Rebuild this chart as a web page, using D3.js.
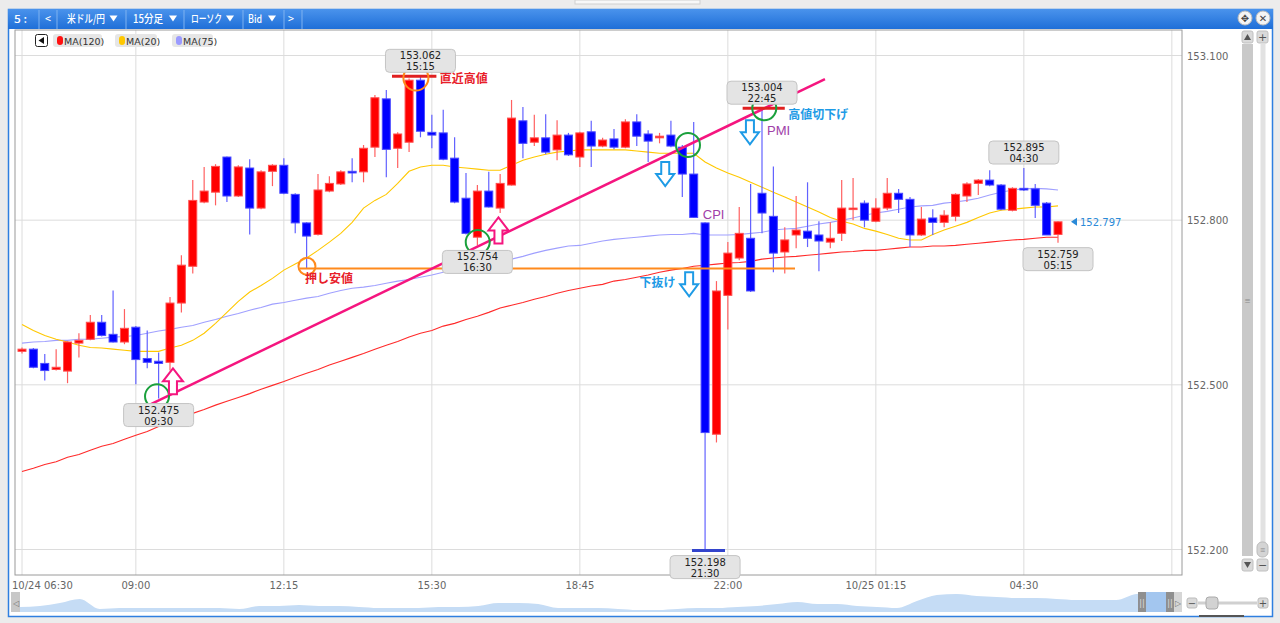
<!DOCTYPE html>
<html><head><meta charset="utf-8">
<script src="https://cdn.jsdelivr.net/npm/d3@7"></script>
<style>
html,body{margin:0;padding:0;background:#ececec;overflow:hidden}
svg{display:block}
</style></head><body>
<svg id="c" width="1280" height="623"></svg>
<script>
// ---------------- DATA ----------------
const timeTickLabels = ["10/24 06:30","09:00","12:15","15:30","18:45","22:00","10/25 01:15","04:30",""];
const timeTickBars = [0,10,23,36,49,62,75,88,101];
const priceTicks = [152.2,152.5,152.8,153.1];
const startMinutes = 390; // 06:30, 15-minute bars

const open = [152.561,152.565,152.539,152.528,152.525,152.576,152.583,152.614,152.592,152.578,
 152.605,152.548,152.543,152.541,152.649,152.716,152.833,152.851,152.915,152.844,
 152.895,152.822,152.889,152.900,152.847,152.795,152.774,152.853,152.866,152.889,
 152.888,152.933,153.021,152.931,152.942,153.055,152.960,152.959,152.913,152.840,
 152.769,152.853,152.822,152.864,152.981,152.942,152.950,152.928,152.955,152.915,
 152.961,152.935,152.948,152.933,152.979,152.957,152.950,152.955,152.933,152.884,
 152.795,152.410,152.663,152.731,152.767,152.849,152.807,152.742,152.773,152.780,
 152.773,152.760,152.776,152.820,152.831,152.798,152.822,152.849,152.838,152.773,
 152.804,152.796,152.807,152.844,152.867,152.873,152.864,152.818,152.858,152.857,
 152.831,152.774];
const close = [152.565,152.532,152.526,152.532,152.578,152.581,152.614,152.590,152.578,152.603,
 152.546,152.541,152.539,152.649,152.718,152.836,152.853,152.898,152.844,152.897,
 152.822,152.888,152.900,152.849,152.795,152.771,152.855,152.867,152.888,152.886,
 152.931,153.023,152.929,152.957,153.055,152.962,152.955,152.911,152.833,152.776,
 152.853,152.824,152.867,152.986,152.940,152.950,152.924,152.955,152.919,152.959,
 152.935,152.946,152.933,152.979,152.953,152.944,152.953,152.935,152.884,152.805,
 152.413,152.671,152.740,152.776,152.671,152.813,152.740,152.764,152.782,152.767,
 152.762,152.767,152.822,152.822,152.800,152.822,152.849,152.838,152.773,152.802,
 152.796,152.809,152.847,152.866,152.873,152.864,152.820,152.858,152.855,152.827,
 152.773,152.797];
const high = [152.568,152.567,152.556,152.565,152.579,152.594,152.627,152.627,152.672,152.638,
 152.607,152.599,152.559,152.660,152.736,152.873,152.897,152.902,152.916,152.900,
 152.911,152.891,152.902,152.913,152.849,152.796,152.884,152.880,152.891,152.913,
 152.937,153.028,153.037,152.960,153.058,153.062,152.992,153.001,152.951,152.886,
 152.864,152.888,152.884,153.019,153.006,152.992,152.993,152.982,152.959,152.961,
 152.981,152.950,152.966,152.984,152.993,152.964,152.959,152.981,152.937,152.979,
 152.796,152.689,152.760,152.824,152.866,153.004,152.898,152.787,152.844,152.869,
 152.798,152.796,152.873,152.877,152.836,152.840,152.877,152.857,152.842,152.824,
 152.820,152.818,152.849,152.869,152.875,152.891,152.866,152.860,152.895,152.866,
 152.833,152.798];
const low = [152.557,152.530,152.508,152.526,152.503,152.550,152.581,152.588,152.577,152.574,
 152.501,152.530,152.475,152.526,152.632,152.703,152.831,152.827,152.833,152.842,
 152.774,152.820,152.862,152.847,152.776,152.712,152.772,152.851,152.864,152.869,
 152.869,152.915,152.878,152.895,152.924,152.951,152.931,152.909,152.831,152.774,
 152.754,152.823,152.813,152.863,152.913,152.935,152.920,152.909,152.917,152.897,
 152.897,152.933,152.929,152.931,152.935,152.906,152.940,152.933,152.842,152.804,
 152.198,152.395,152.601,152.727,152.669,152.776,152.705,152.703,152.749,152.751,
 152.707,152.749,152.762,152.800,152.787,152.796,152.818,152.813,152.751,152.771,
 152.773,152.787,152.798,152.833,152.846,152.862,152.818,152.816,152.853,152.804,
 152.773,152.759];

const ma20 = [152.610,152.599,152.590,152.583,152.578,152.572,152.568,152.567,152.565,152.563,
 152.561,152.561,152.561,152.567,152.572,152.581,152.594,152.612,152.632,152.652,
 152.669,152.681,152.694,152.709,152.720,152.731,152.745,152.760,152.776,152.796,
 152.822,152.836,152.847,152.867,152.889,152.897,152.900,152.900,152.897,152.895,
 152.893,152.891,152.891,152.900,152.909,152.915,152.920,152.924,152.926,152.928,
 152.928,152.928,152.928,152.928,152.926,152.924,152.922,152.922,152.922,152.922,
 152.906,152.895,152.886,152.878,152.869,152.860,152.851,152.842,152.833,152.824,
 152.815,152.805,152.798,152.793,152.785,152.780,152.774,152.767,152.764,152.764,
 152.774,152.782,152.789,152.796,152.805,152.813,152.818,152.820,152.822,152.824,
 152.824,152.826];
const ma75 = [152.576,152.578,152.579,152.581,152.581,152.583,152.583,152.585,152.587,152.588,
 152.590,152.594,152.598,152.601,152.605,152.608,152.614,152.619,152.625,152.630,
 152.636,152.641,152.647,152.650,152.654,152.658,152.661,152.667,152.672,152.676,
 152.678,152.681,152.685,152.689,152.692,152.696,152.700,152.705,152.709,152.714,
 152.718,152.722,152.725,152.729,152.734,152.740,152.745,152.749,152.753,152.754,
 152.758,152.762,152.765,152.767,152.769,152.771,152.773,152.774,152.774,152.776,
 152.773,152.773,152.773,152.774,152.776,152.778,152.782,152.784,152.785,152.789,
 152.793,152.796,152.800,152.804,152.809,152.813,152.816,152.820,152.824,152.826,
 152.827,152.831,152.833,152.836,152.840,152.846,152.851,152.855,152.857,152.858,
 152.857,152.855];
const ma120 = [152.342,152.348,152.355,152.360,152.368,152.373,152.381,152.388,152.393,152.401,
 152.408,152.415,152.424,152.432,152.439,152.448,152.455,152.463,152.470,152.477,
 152.484,152.492,152.499,152.506,152.514,152.521,152.528,152.536,152.543,152.550,
 152.557,152.565,152.572,152.579,152.587,152.594,152.599,152.607,152.612,152.619,
 152.625,152.632,152.640,152.645,152.650,152.656,152.661,152.667,152.672,152.676,
 152.680,152.683,152.689,152.692,152.696,152.700,152.705,152.709,152.712,152.716,
 152.718,152.720,152.722,152.723,152.725,152.729,152.731,152.733,152.734,152.736,
 152.738,152.740,152.742,152.743,152.745,152.745,152.747,152.749,152.751,152.751,
 152.753,152.753,152.754,152.756,152.758,152.760,152.762,152.764,152.765,152.767,
 152.769,152.769];

// overview navigator profile (relative level, sampled every 20px of overview)
const navLevels = [5,6,9,13,3,4,4,4,4,4,4,3,6,6,7,6,6,5,4,4,4,5,5,6,9,9,8,4,4,4,3,2,2,3,4,4,5,6,8,10,8,8,6,5,4,11,17,18,16,15,14,14,13,12,12,12,18,19,19];

const legendItems = [{name:"MA(120)", color:"#ff1010"},{name:"MA(20)", color:"#ffc800"},{name:"MA(75)", color:"#9a9aff"}];
const headerItems = ["5 :","<","米ドル/円","15分足","ローソク","Bid",">"];
const highMarks = [35,65,88];
const lowMarks = [12,40,60,91];
const greenCircles = [{bar:11.86,price:152.479},{bar:40.03,price:152.760},{bar:58.5,price:152.937},{bar:65.2,price:153.004}];
const orangeCircles = [{bar:34.6,price:153.059,r:12.5},{bar:25.03,price:152.716,r:8.5}];
const upArrows = [{bar:13.26,price:152.530},{bar:41.85,price:152.805}];
const downArrows = [{bar:56.5,price:152.906},{bar:58.6,price:152.705},{bar:63.94,price:152.982}];
const notes = [
 {text:"直近高値",bar:36.7,price:153.050,color:"#e8202a",bold:true},
 {text:"押し安値",bar:24.86,price:152.685,color:"#e8202a",bold:true},
 {text:"下抜け",bar:54.25,price:152.678,color:"#1e9be6",bold:true},
 {text:"高値切下げ",bar:67.3,price:152.984,color:"#1e9be6",bold:true},
 {text:"CPI",bar:59.8,price:152.802,color:"#a040a8",bold:false},
 {text:"PMI",bar:65.45,price:152.955,color:"#a040a8",bold:false}
];
const trendLine = [{bar:11.24,price:152.464},{bar:70.53,price:153.057}];
const supportLine = {from:24.4,to:67.9,price:152.712};
const lastPrice = 152.797;

// ---------------- LAYOUT ----------------
const svg = d3.select("#c");
const P = {l:15, t:30, r:1182, b:575};
const x = d3.scaleLinear().domain([0,91]).range([22,1058]);
const y = d3.scaleLinear().domain([152.2,153.1]).range([549.5,55.5]);
const FONT = "'DejaVu Sans', Verdana, sans-serif";
const JFONT = "'Noto Sans CJK JP', 'Noto Sans', sans-serif";

svg.append("rect").attr("x",0).attr("y",0).attr("width",1280).attr("height",623).attr("fill","#ececec");
svg.append("rect").attr("x",575).attr("y",0).attr("width",125).attr("height",4).attr("fill","#f8f8f8").attr("stroke","#d0d0d0");
svg.append("rect").attr("x",8.5).attr("y",9.5).attr("width",1264).attr("height",607).attr("fill","#fff").attr("stroke","#2f7fe0").attr("stroke-width",1.5);

// header
const hg = svg.append("defs").append("linearGradient").attr("id","hdr").attr("x1",0).attr("y1",0).attr("x2",0).attr("y2",1);
hg.append("stop").attr("offset","0%").attr("stop-color","#4a93ec");
hg.append("stop").attr("offset","100%").attr("stop-color","#1f6fd8");
svg.append("rect").attr("x",8).attr("y",9).attr("width",1265).attr("height",20).attr("fill","url(#hdr)");
const hdrX = [14,45,67,133,191,248,288];
const hdrW = [13,6,38,30,31,14,6];
const hdrArrowX = [113.5,173,230,272];
svg.append("g").selectAll("text").data(headerItems).join("text")
  .attr("x",(d,i)=>hdrX[i]).attr("y",23).text(d=>d).attr("fill","#fff")
  .attr("textLength",(d,i)=>hdrW[i]).attr("lengthAdjust","spacingAndGlyphs")
  .attr("font-family",JFONT).attr("font-size",11).attr("font-weight","500");
svg.append("g").selectAll("path").data(hdrArrowX).join("path")
  .attr("d",d=>`M${d-4},15.5 L${d+4},15.5 L${d},21.5 Z`).attr("fill","#fff");
svg.append("g").selectAll("line").data([39,57,126,184,243,284,302]).join("line")
  .attr("x1",d=>d).attr("x2",d=>d).attr("y1",10).attr("y2",29).attr("stroke","#7fb2f0").attr("stroke-width",1);
[1245,1263].forEach((cx,k)=>{
  svg.append("circle").attr("cx",cx).attr("cy",18).attr("r",7).attr("fill","#f4f4f4").attr("stroke","#bbb");
  svg.append("text").attr("x",cx).attr("y",22).attr("text-anchor","middle").attr("font-size",10)
    .attr("font-family",FONT).attr("fill","#444").text(k===0?"✥":"✕");
});

// plot frame + grid
const grid = svg.append("g");
grid.selectAll("line.v").data(timeTickBars).join("line").attr("class","v")
  .attr("x1",d=>x(d)).attr("x2",d=>x(d)).attr("y1",P.t).attr("y2",P.b).attr("stroke","#dcdcdc");
grid.selectAll("line.h").data(priceTicks).join("line").attr("class","h")
  .attr("x1",P.l).attr("x2",P.r).attr("y1",d=>y(d)).attr("y2",d=>y(d)).attr("stroke","#dcdcdc");
svg.append("rect").attr("x",P.l).attr("y",P.t).attr("width",P.r-P.l).attr("height",P.b-P.t)
  .attr("fill","none").attr("stroke","#9a9a9a");

svg.append("g").selectAll("text").data(priceTicks).join("text")
  .attr("x",1187).attr("y",d=>y(d)+4).text(d=>d.toFixed(3))
  .attr("font-family",FONT).attr("font-size",10).attr("fill","#666");
svg.append("g").selectAll("text").data(timeTickBars.map((b,i)=>({b,t:timeTickLabels[i]}))).join("text")
  .attr("x",d=>d.b===0?12:x(d.b)).attr("y",589).attr("text-anchor",d=>d.b===0?"start":"middle")
  .text(d=>d.t).attr("font-family",FONT).attr("font-size",10).attr("fill","#666");

svg.append("clipPath").attr("id","plotclip").append("rect")
  .attr("x",P.l).attr("y",P.t).attr("width",P.r-P.l).attr("height",P.b-P.t);
const plot = svg.append("g").attr("clip-path","url(#plotclip)");

const lineGen = d3.line().x((d,i)=>x(i)).y(d=>y(d));
[[ma120,"#ff2a2a"],[ma75,"#a0a0ff"],[ma20,"#ffc800"]].forEach(([arr,c])=>{
  plot.append("path").datum(arr).attr("d",lineGen).attr("fill","none").attr("stroke",c).attr("stroke-width",1.1);
});

const bars = d3.range(open.length);
const cg = plot.append("g");
cg.selectAll("line.w").data(bars).join("line").attr("class","w")
  .attr("x1",i=>x(i)).attr("x2",i=>x(i)).attr("y1",i=>y(high[i])).attr("y2",i=>y(low[i]))
  .attr("stroke",i=>close[i]>=open[i]?"#ff6060":"#6262ff").attr("stroke-width",1.2);
cg.selectAll("rect.b").data(bars).join("rect").attr("class","b")
  .attr("x",i=>x(i)-4).attr("width",8)
  .attr("y",i=>y(Math.max(open[i],close[i])))
  .attr("height",i=>Math.max(1.5,Math.abs(y(open[i])-y(close[i]))))
  .attr("fill",i=>close[i]>=open[i]?"#ff0000":"#0000ff")
  .attr("stroke",i=>close[i]>=open[i]?"#ff5050":"#4a4aff").attr("stroke-width",1);

// legend
const lg = svg.append("g");
lg.append("rect").attr("x",35.5).attr("y",34.5).attr("width",12).attr("height",12).attr("rx",2)
  .attr("fill","#fff").attr("stroke","#222");
lg.append("path").attr("d","M38.5,40.5 L44,37 L44,44 Z").attr("fill","#111");
const legendX = [53,115,172];
const legendW = [49,42,41];
legendItems.forEach((d,i)=>{
  lg.append("rect").attr("x",legendX[i]).attr("y",34).attr("width",legendW[i]).attr("height",13).attr("rx",3).attr("fill","#e6e6e6");
  lg.append("rect").attr("x",legendX[i]+4).attr("y",36).attr("width",6).attr("height",9).attr("rx",3).attr("fill",d.color);
  lg.append("text").attr("x",legendX[i]+11).attr("y",44.5).text(d.name).attr("font-family",FONT).attr("font-size",9.5).attr("fill","#333");
});

// annotations
const ann = svg.append("g");
ann.append("line").attr("x1",x(supportLine.from)).attr("x2",x(supportLine.to))
  .attr("y1",y(supportLine.price)).attr("y2",y(supportLine.price)).attr("stroke","#ff8a1c").attr("stroke-width",2);
ann.append("line").attr("x1",x(trendLine[0].bar)).attr("y1",y(trendLine[0].price))
  .attr("x2",x(trendLine[1].bar)).attr("y2",y(trendLine[1].price)).attr("stroke","#f5157f").attr("stroke-width",2.5);
ann.append("line").attr("x1",x(32.5)).attr("x2",x(36.4)).attr("y1",y(high[35])).attr("y2",y(high[35])).attr("stroke","#e02020").attr("stroke-width",3);
ann.append("line").attr("x1",x(63.3)).attr("x2",x(67.0)).attr("y1",y(high[65])).attr("y2",y(high[65])).attr("stroke","#e02020").attr("stroke-width",3);
ann.append("line").attr("x1",x(58.85)).attr("x2",x(61.75)).attr("y1",y(low[60])).attr("y2",y(low[60])).attr("stroke","#3344cc").attr("stroke-width",3);

ann.selectAll("circle.g").data(greenCircles).join("circle").attr("class","g")
  .attr("cx",d=>x(d.bar)).attr("cy",d=>y(d.price)).attr("r",12).attr("fill","none").attr("stroke","#1aa03c").attr("stroke-width",2);
ann.selectAll("circle.o").data(orangeCircles).join("circle").attr("class","o")
  .attr("cx",d=>x(d.bar)).attr("cy",d=>y(d.price)).attr("r",d=>d.r).attr("fill","none").attr("stroke","#ff8a1c").attr("stroke-width",2);

function upPath(cx,ty){return `M${cx},${ty} L${cx+10},${ty+13} L${cx+4},${ty+13} L${cx+4},${ty+26} L${cx-4},${ty+26} L${cx-4},${ty+13} L${cx-10},${ty+13} Z`;}
function downPath(cx,ty){return `M${cx-4},${ty} L${cx+4},${ty} L${cx+4},${ty+12} L${cx+9},${ty+12} L${cx},${ty+24} L${cx-9},${ty+12} L${cx-4},${ty+12} Z`;}
ann.selectAll("path.u").data(upArrows).join("path").attr("class","u")
  .attr("d",d=>upPath(x(d.bar),y(d.price))).attr("fill","#fff").attr("stroke","#f5157f").attr("stroke-width",2);
ann.selectAll("path.d").data(downArrows).join("path").attr("class","d")
  .attr("d",d=>downPath(x(d.bar),y(d.price))).attr("fill","#fff").attr("stroke","#1e9be6").attr("stroke-width",2);

ann.selectAll("text.n").data(notes).join("text").attr("class","n")
  .attr("x",d=>x(d.bar)).attr("y",d=>y(d.price)).text(d=>d.text)
  .attr("fill",d=>d.color).attr("font-weight",d=>d.bold?"bold":"normal")
  .attr("font-family",d=>d.bold?JFONT:"'Liberation Sans', Arial, sans-serif")
  .attr("font-size",d=>d.bold?12:13);

function tLabel(i){const m=(startMinutes+15*i)%1440;return String(Math.floor(m/60)).padStart(2,"0")+":"+String(m%60).padStart(2,"0");}
function box(i,price,top){
  const g = ann.append("g");
  g.append("rect").attr("x",x(i)-35).attr("y",top).attr("width",70).attr("height",23).attr("rx",4)
    .attr("fill","#e4e4e4").attr("stroke","#c4c4c4");
  g.append("text").attr("x",x(i)).attr("y",top+10).attr("text-anchor","middle").text(price.toFixed(3))
    .attr("font-family",FONT).attr("font-size",10).attr("fill","#222");
  g.append("text").attr("x",x(i)).attr("y",top+21).attr("text-anchor","middle").text(tLabel(i))
    .attr("font-family",FONT).attr("font-size",10).attr("fill","#222");
}
highMarks.forEach(i=>box(i,high[i],y(high[i])-27));
lowMarks.forEach(i=>box(i,low[i],y(low[i])+5));

ann.append("path").attr("d",`M1071,${y(lastPrice)} L1077,${y(lastPrice)-4} L1077,${y(lastPrice)+4} Z`).attr("fill","#2a8ad8");
ann.append("text").attr("x",1080).attr("y",y(lastPrice)+4).text(lastPrice.toFixed(3))
  .attr("font-family",FONT).attr("font-size",10).attr("fill","#2a8ad8");

// right scrollbars
const sb = svg.append("g");
sb.append("rect").attr("x",1242).attr("y",44).attr("width",11).attr("height",512).attr("fill","#c9c9c9");
sb.append("rect").attr("x",1242).attr("y",31).attr("width",11).attr("height",12).attr("rx",2).attr("fill","#dadada").attr("stroke","#c0c0c0");
sb.append("path").attr("d","M1247.5,34 L1251,40 L1244,40 Z").attr("fill","#555");
sb.append("rect").attr("x",1242).attr("y",559).attr("width",11).attr("height",12).attr("rx",2).attr("fill","#dadada").attr("stroke","#c0c0c0");
sb.append("path").attr("d","M1247.5,568 L1251,562 L1244,562 Z").attr("fill","#555");
sb.append("text").attr("x",1247.5).attr("y",304).attr("text-anchor","middle").text("≡").attr("font-size",10).attr("fill","#888");
sb.append("rect").attr("x",1260.5).attr("y",44).attr("width",5).attr("height",512).attr("fill","#e2e2e2");
sb.append("rect").attr("x",1257).attr("y",31).attr("width",11).attr("height",12).attr("rx",2).attr("fill","#dadada").attr("stroke","#c0c0c0");
sb.append("text").attr("x",1262.5).attr("y",41).attr("text-anchor","middle").text("+").attr("font-family",FONT).attr("font-size",11).attr("fill","#555");
sb.append("rect").attr("x",1257).attr("y",542).attr("width",11).attr("height",15).attr("rx",5).attr("fill","#d4d4d4").attr("stroke","#bbb");
sb.append("text").attr("x",1262.5).attr("y",553).attr("text-anchor","middle").text("≡").attr("font-size",9).attr("fill","#888");
sb.append("rect").attr("x",1257).attr("y",559).attr("width",11).attr("height",12).attr("rx",2).attr("fill","#dadada").attr("stroke","#c0c0c0");
sb.append("text").attr("x",1262.5).attr("y",569).attr("text-anchor","middle").text("−").attr("font-family",FONT).attr("font-size",11).attr("fill","#555");

// navigator
const nx = d3.scaleLinear().domain([0,navLevels.length-1]).range([20,1176]);
const ny = d3.scaleLinear().domain([0,20]).range([612,592]);
const area = d3.area().x((d,i)=>nx(i)).y0(612).y1(d=>ny(d)).curve(d3.curveMonotoneX);
svg.append("path").datum(navLevels).attr("d",area).attr("fill","#c5dcf5");
svg.append("rect").attr("x",1146).attr("y",592).attr("width",20).attr("height",20).attr("fill","#a3c6ef");
svg.append("rect").attr("x",11).attr("y",592).attr("width",9).attr("height",20).attr("fill","#c8c8c8");
svg.append("text").attr("x",13).attr("y",606).text("◁").attr("font-size",8).attr("fill","#777");
[1138,1166].forEach(hx=>{
  svg.append("rect").attr("x",hx).attr("y",592).attr("width",8).attr("height",20).attr("fill","#8f8f8f");
  svg.append("text").attr("x",hx+4).attr("y",606).attr("text-anchor","middle").text("||").attr("font-family",FONT).attr("font-size",8).attr("fill","#ddd");
});
svg.append("rect").attr("x",1174).attr("y",592).attr("width",8).attr("height",20).attr("fill","#d6d6d6");
svg.append("text").attr("x",1175).attr("y",606).text("▷").attr("font-size",8).attr("fill","#777");
svg.append("rect").attr("x",1187).attr("y",598).attr("width",10).attr("height",10).attr("rx",2).attr("fill","#dadada").attr("stroke","#bbb");
svg.append("text").attr("x",1192).attr("y",607).attr("text-anchor","middle").text("−").attr("font-family",FONT).attr("font-size",10).attr("fill","#555");
svg.append("line").attr("x1",1198).attr("x2",1257).attr("y1",603).attr("y2",603).attr("stroke","#d0d0d0").attr("stroke-width",3);
svg.append("rect").attr("x",1206).attr("y",597).attr("width",12).attr("height",12).attr("rx",3).attr("fill","#d2d2d2").attr("stroke","#aaa");
svg.append("rect").attr("x",1258).attr("y",598).attr("width",10).attr("height",10).attr("rx",2).attr("fill","#dadada").attr("stroke","#bbb");
svg.append("text").attr("x",1263).attr("y",607).attr("text-anchor","middle").text("+").attr("font-family",FONT).attr("font-size",10).attr("fill","#555");
svg.append("rect").attr("x",1199).attr("y",615).attr("width",45).attr("height",2).attr("fill","#555");
</script>
</body></html>
